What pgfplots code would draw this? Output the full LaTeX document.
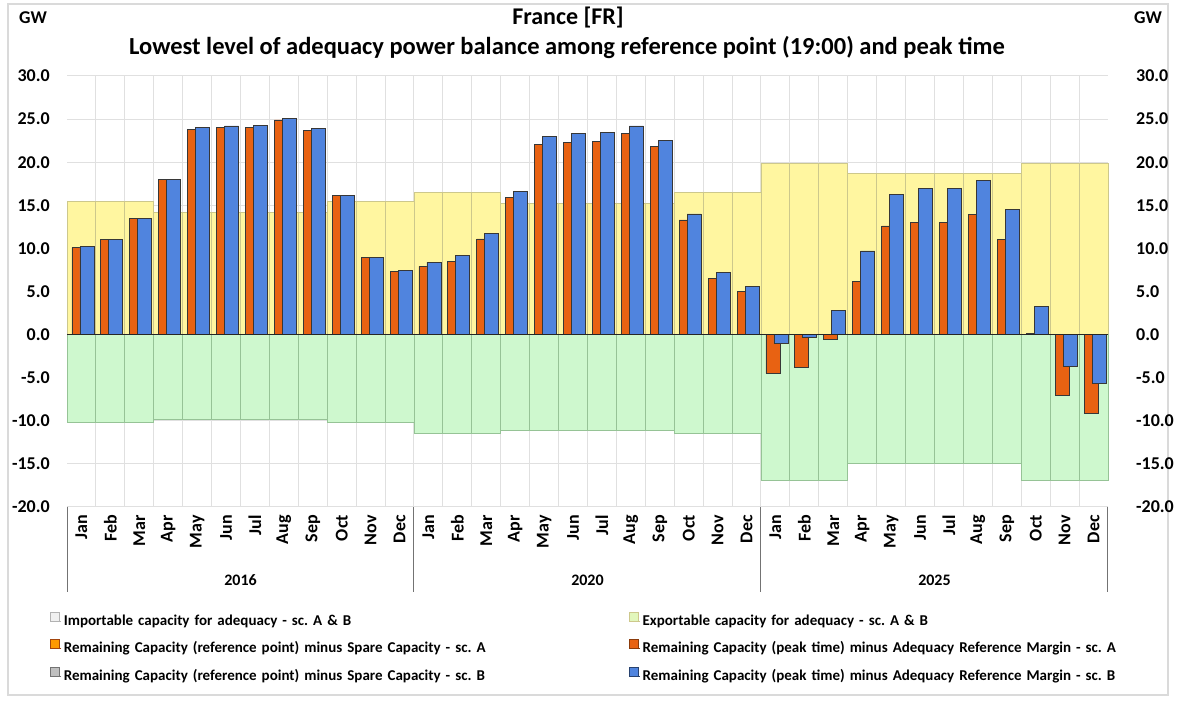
\documentclass[border=0pt]{standalone}
\usepackage{fontspec}
\setmainfont{Carlito}
\usepackage{pgfplots}
\usepackage{pgfplotstable}
\pgfplotsset{compat=1.18}
\frenchspacing
\definecolor{cyel}{RGB}{255,246,160}
\definecolor{cyelE}{RGB}{205,200,140}
\definecolor{cgrn}{RGB}{206,248,206}
\definecolor{cgrnE}{RGB}{150,195,150}
\definecolor{corg}{RGB}{232,98,18}
\definecolor{cblu}{RGB}{80,132,222}
\definecolor{cedge}{RGB}{55,55,55}
\definecolor{cgrid}{RGB}{224,224,224}
\definecolor{cframe}{RGB}{218,218,218}

\pgfplotstableread{
x exp imp ora blu
0 15.4 -10.2 10.1 10.2
1 15.4 -10.2 11.0 11.0
2 15.4 -10.2 13.5 13.5
3 14.2 -9.9 18.0 18.0
4 14.2 -9.9 23.8 24.0
5 14.2 -9.9 24.0 24.2
6 14.2 -9.9 24.0 24.3
7 14.2 -9.9 24.9 25.1
8 14.2 -9.9 23.7 23.9
9 15.4 -10.2 16.1 16.1
10 15.4 -10.2 9.0 9.0
11 15.4 -10.2 7.3 7.4
12 16.5 -11.5 7.9 8.4
13 16.5 -11.5 8.5 9.2
14 16.5 -11.5 11.1 11.7
15 15.2 -11.1 15.9 16.6
16 15.2 -11.1 22.1 23.0
17 15.2 -11.1 22.3 23.3
18 15.2 -11.1 22.4 23.4
19 15.2 -11.1 23.3 24.2
20 15.2 -11.1 21.8 22.5
21 16.5 -11.5 13.3 14.0
22 16.5 -11.5 6.5 7.2
23 16.5 -11.5 5.0 5.6
24 19.8 -16.9 -4.5 -1.0
25 19.8 -16.9 -3.8 -0.3
26 19.8 -16.9 -0.6 2.8
27 18.7 -15.0 6.2 9.7
28 18.7 -15.0 12.6 16.3
29 18.7 -15.0 13.0 17.0
30 18.7 -15.0 13.0 17.0
31 18.7 -15.0 13.9 17.9
32 18.7 -15.0 11.0 14.5
33 19.8 -16.9 0.1 3.3
34 19.8 -16.9 -7.0 -3.7
35 19.8 -16.9 -9.2 -5.7
}\datatable

\begin{document}
\begin{tikzpicture}[x=1bp,y=1bp]
\useasboundingbox (0,0) rectangle (1198,711);
\fill[white] (0,0) rectangle (1198,711);
\draw[cframe, line width=2bp] (8,16) rectangle (1168,707);
\node[font=\fontsize{24bp}{27bp}\selectfont\bfseries] at (568,693) {France [FR]};
\node[font=\fontsize{24.5bp}{27bp}\selectfont\bfseries] at (567,664) {Lowest level of adequacy power balance among reference point (19:00) and peak time};
\node[font=\fontsize{18bp}{20bp}\selectfont\bfseries] at (33,693) {GW};
\node[font=\fontsize{18bp}{20bp}\selectfont\bfseries] at (1148,693) {GW};

\begin{axis}[
  at={(67bp,204bp)}, anchor=south west,
  scale only axis, width=1041bp, height=431bp,
  xmin=-0.5, xmax=35.5, ymin=-20, ymax=30,
  ytick={-20,-15,...,30},
  xtick={0,...,35},
  xticklabels={Jan,Feb,Mar,Apr,May,Jun,Jul,Aug,Sep,Oct,Nov,Dec,Jan,Feb,Mar,Apr,May,Jun,Jul,Aug,Sep,Oct,Nov,Dec,Jan,Feb,Mar,Apr,May,Jun,Jul,Aug,Sep,Oct,Nov,Dec},
  minor x tick num=1,
  xmajorgrids=false, xminorgrids=true, ymajorgrids=true,
  grid style={cgrid, line width=1bp},
  minor grid style={cgrid, line width=1bp},
  major grid style={cgrid, line width=1bp},
  axis line style={draw=none},
  major tick length=0pt, minor tick length=0pt,
  tick style={draw=none},
  /pgf/number format/assume math mode=true,
  yticklabel={\pgfmathprintnumber[fixed,fixed zerofill,precision=1]{\tick}},
  yticklabel style={font=\fontsize{18bp}{20bp}\selectfont\bfseries, inner sep=0pt, xshift=-17bp},
  xticklabel style={font=\fontsize{18bp}{20bp}\selectfont\bfseries, inner sep=0pt, yshift=-8bp, rotate=90, anchor=east},
  clip=false,
  legend columns=2,
  legend cell align=left,
  legend image code/.code={\path (0bp,0bp) -- (11bp,0bp); \draw[#1] (0bp,0bp) rectangle (9bp,9bp);},
  legend style={at={(axis description cs:-0.0163,-0.2436)}, anchor=north west, draw=none, fill=none,
    inner sep=0pt, outer sep=0pt, column sep=0pt, row sep=10bp,
    font=\fontsize{15bp}{17bp}\selectfont\bfseries\frenchspacing,
    nodes={inner xsep=2bp, inner ysep=1bp, text height=11bp, text depth=3bp, text width=563bp, align=left}},
]
\addplot[ybar, bar width=1, bar shift=0, fill=cyel, draw=cyelE, line width=0.9bp, forget plot] table[x=x,y=exp]{\datatable};
\addplot[ybar, bar width=1, bar shift=0, fill=cgrn, draw=cgrnE, line width=0.9bp, forget plot] table[x=x,y=imp]{\datatable};
\addplot[ybar, bar width=14bp, bar shift=-2.5bp, fill=corg, draw=cedge, line width=0.8bp, forget plot] table[x=x,y=ora]{\datatable};
\addplot[ybar, bar width=14bp, bar shift=5.5bp, fill=cblu, draw=cedge, line width=0.8bp, forget plot] table[x=x,y=blu]{\datatable};

\addlegendimage{fill=black!6, draw=black!30, line width=0.6bp}
\addlegendentry{Importable capacity for adequacy - sc. A \& B}
\addlegendimage{fill=cyel!40!cgrn, draw=cyelE, line width=0.6bp}
\addlegendentry{Exportable capacity for adequacy - sc. A \& B}
\addlegendimage{fill=orange!80!yellow, draw=corg!70!black, line width=0.8bp}
\addlegendentry{Remaining Capacity (reference point) minus Spare Capacity - sc. A}
\addlegendimage{fill=corg, draw=corg!60!black, line width=0.8bp}
\addlegendentry{Remaining Capacity (peak time) minus Adequacy Reference Margin - sc. A}
\addlegendimage{fill=black!25, draw=black!55, line width=0.8bp}
\addlegendentry{Remaining Capacity (reference point) minus Spare Capacity - sc. B}
\addlegendimage{fill=cblu, draw=cblu!50!black, line width=0.8bp}
\addlegendentry{Remaining Capacity (peak time) minus Adequacy Reference Margin - sc. B}

\draw[black!85, line width=1.3bp] (axis cs:-0.5,0) -- (axis cs:35.5,0);
\draw[black!55, line width=1bp] (axis cs:-0.5,-20) -- ([yshift=-85bp]axis cs:-0.5,-20);
\draw[black!55, line width=1bp] (axis cs:11.5,-20) -- ([yshift=-85bp]axis cs:11.5,-20);
\draw[black!55, line width=1bp] (axis cs:23.5,-20) -- ([yshift=-85bp]axis cs:23.5,-20);
\draw[black!55, line width=1bp] (axis cs:35.5,-20) -- ([yshift=-85bp]axis cs:35.5,-20);
\node[font=\fontsize{16bp}{18bp}\selectfont\bfseries] at (axis cs:5.5,-20) [yshift=-73bp] {2016};
\node[font=\fontsize{16bp}{18bp}\selectfont\bfseries] at (axis cs:17.5,-20) [yshift=-73bp] {2020};
\node[font=\fontsize{16bp}{18bp}\selectfont\bfseries] at (axis cs:29.5,-20) [yshift=-73bp] {2025};
\end{axis}

\begin{axis}[
  at={(67bp,204bp)}, anchor=south west,
  scale only axis, width=1041bp, height=431bp,
  xmin=-0.5, xmax=35.5, ymin=-20, ymax=30,
  ytick={-20,-15,...,30},
  hide x axis,
  axis line style={draw=none},
  major tick length=0pt, tick style={draw=none},
  yticklabel pos=right,
  /pgf/number format/assume math mode=true,
  yticklabel={\pgfmathprintnumber[fixed,fixed zerofill,precision=1]{\tick}},
  yticklabel style={font=\fontsize{18bp}{20bp}\selectfont\bfseries, inner sep=0pt, xshift=28bp, anchor=west},
]
\end{axis}
\end{tikzpicture}
\end{document}
